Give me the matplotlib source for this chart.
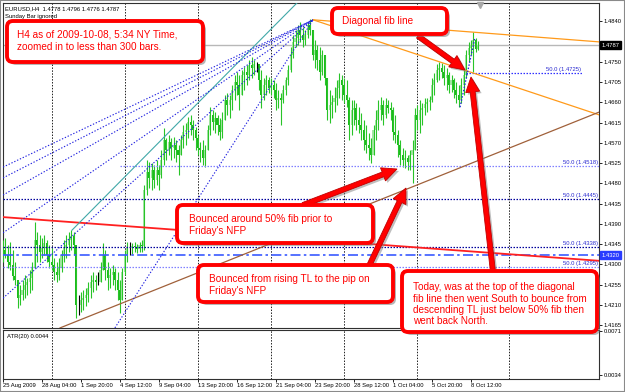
import numpy as np
import matplotlib
matplotlib.use("Agg")
import matplotlib.pyplot as plt
from matplotlib.patches import FancyBboxPatch, FancyArrow, Rectangle

# EURUSD H4 bars, in pips above 1.4000
high_pips = [354, 359, 343, 350, 332, 305, 265, 254, 265, 277, 270, 288, 305, 394, 372, 365, 359, 365, 354, 343,
             336, 314, 305, 314, 332, 354, 365, 372, 376, 372, 343, 232, 239, 243, 248, 261, 277, 283, 277, 283,
             305, 348, 332, 305, 292, 299, 292, 283, 265, 292, 332, 350, 350, 348, 350, 345, 350, 354, 476, 532,
             527, 525, 521, 532, 521, 554, 603, 581, 587, 581, 583, 576, 565, 587, 610, 614, 627, 632, 621, 605,
             587, 572, 576, 565, 610, 649, 643, 638, 632, 625, 638, 676, 681, 676, 698, 720, 727, 720, 732, 738,
             743, 754, 760, 754, 749, 743, 732, 714, 720, 716, 714, 709, 703, 687, 681, 698, 716, 743, 783, 809,
             820, 831, 838, 827, 820, 838, 845, 816, 798, 787, 783, 776, 765, 714, 687, 676, 694, 709, 725, 720,
             714, 709, 672, 665, 665, 658, 649, 636, 621, 610, 592, 581, 610, 643, 665, 672, 665, 669, 665, 661,
             649, 632, 598, 576, 558, 554, 543, 554, 576, 647, 654, 665, 658, 669, 669, 674, 714, 725, 745, 749,
             747, 743, 736, 727, 720, 714, 705, 698, 714, 732, 776, 794, 798, 816, 803, 796]
low_pips = [305, 314, 292, 288, 265, 254, 203, 210, 221, 225, 232, 237, 243, 292, 305, 305, 314, 321, 305, 292,
            288, 265, 261, 265, 283, 305, 314, 328, 332, 321, 181, 188, 194, 199, 208, 217, 225, 239, 243, 254,
            261, 288, 265, 243, 248, 254, 243, 221, 192, 221, 277, 305, 321, 323, 328, 325, 328, 328, 332, 454,
            470, 465, 470, 476, 465, 492, 521, 532, 543, 532, 536, 527, 499, 543, 558, 565, 581, 587, 576, 554,
            543, 527, 521, 516, 554, 587, 598, 592, 587, 576, 581, 621, 632, 625, 643, 665, 676, 643, 676, 687,
            698, 709, 714, 720, 727, 687, 647, 665, 676, 681, 676, 669, 643, 647, 610, 658, 676, 698, 727, 758,
            783, 787, 794, 783, 787, 803, 809, 754, 736, 732, 709, 720, 698, 621, 614, 625, 638, 654, 669, 665,
            658, 649, 576, 587, 610, 598, 592, 576, 554, 547, 532, 525, 554, 576, 598, 621, 610, 625, 636, 621,
            576, 570, 538, 521, 516, 514, 510, 510, 481, 554, 598, 592, 610, 632, 638, 643, 661, 676, 705, 709,
            714, 698, 687, 681, 683, 669, 658, 649, 658, 676, 714, 749, 765, 727, 772, 776]
close_pips = [332, 321, 305, 299, 274, 265, 225, 232, 243, 254, 261, 270, 292, 354, 343, 328, 336, 348, 321, 305,
              299, 283, 277, 292, 321, 336, 343, 354, 363, 343, 210, 210, 221, 225, 232, 248, 261, 265, 261, 261,
              288, 321, 288, 270, 277, 283, 265, 243, 221, 283, 321, 336, 336, 341, 339, 334, 343, 341, 465, 505,
              492, 510, 487, 510, 499, 532, 576, 554, 572, 558, 565, 554, 543, 576, 594, 598, 616, 610, 598, 581,
              558, 554, 536, 554, 598, 632, 616, 625, 610, 594, 621, 665, 654, 665, 687, 705, 698, 676, 720, 727,
              720, 743, 736, 745, 745, 709, 676, 698, 709, 692, 698, 687, 665, 669, 665, 687, 709, 732, 765, 794,
              803, 820, 809, 798, 809, 831, 820, 765, 776, 754, 727, 765, 714, 643, 654, 661, 669, 692, 709, 698,
              676, 665, 610, 643, 647, 621, 610, 598, 576, 565, 558, 543, 598, 621, 643, 654, 632, 654, 647, 643,
              594, 587, 565, 543, 532, 536, 527, 543, 554, 632, 621, 643, 647, 656, 661, 665, 698, 709, 732, 736,
              727, 714, 720, 698, 709, 687, 676, 665, 698, 720, 765, 780, 787, 798, 778, 787]
first_open_pips = 340

# chart objects: (bar index, price)
swing_high = (127.2, 1.4843)
orange_ends = [1.4794, 1.4632]          # price where the two orange lines hit the right edge
brown_tl = [(23.4, 1.4159), (244.5, 1.4638)]
red_tl = [(0.0, 1.4405), (244.5, 1.4308)]
teal_tl = [(28.3, 1.4376), (121.8, 1.4887)]
fan_left = [1.4516, 1.4492, 1.4454, 1.4370, 1.4225]   # fan lines at the left edge
fan_steep = (45.9, 1.4159)
short_fib = [(187.5, 1.4649), (193.6, 1.4803)]
fib_levels = [1.4725, 1.4518, 1.4445, 1.4338, 1.4295]
fib_starts = [190.0, 48.0, 0.0, 0.0, 0.0]
fib_colors = ["#3030ff", "#8080ff", "#00009c", "#00009c", "#8080ff"]
level_1320 = 1.4320
last_price = 1.4787

price_ticks = [1.4840, 1.4750, 1.4705, 1.4660, 1.4615, 1.4570, 1.4525, 1.4480, 1.4435,
               1.4390, 1.4345, 1.4300, 1.4255, 1.4210, 1.4165]
atr_ticks = [0.0071, 0.0034]
date_labels = ["25 Aug 2009", "28 Aug 04:00", "1 Sep 20:00", "4 Sep 12:00", "9 Sep 04:00",
               "13 Sep 20:00", "16 Sep 12:00", "21 Sep 04:00", "23 Sep 20:00", "28 Sep 12:00",
               "1 Oct 04:00", "5 Oct 20:00", "8 Oct 12:00"]
date_bars = [0, 16, 32, 48, 64, 80, 96, 112, 128, 144, 160, 176, 192]
week_seps = [20, 50, 80, 110, 140, 170, 207.5]

W, H = 625, 392
small = dict(fontsize=4.2, family="Liberation Sans")
fig = plt.figure(figsize=(W / 100, H / 100), dpi=100)
fig.patch.set_facecolor("white")


def px_axes(x0, y0, x1, y1):
    return fig.add_axes([x0 / W, 1 - y1 / H, (x1 - x0) / W, (y1 - y0) / H])


ax = px_axes(3, 3, 599, 328)
atr = px_axes(3, 330, 599, 379)
for a in (ax, atr):
    a.set_xlim(0, 244.5)
    for s in a.spines.values():
        s.set_color("#303030")
        s.set_linewidth(0.8)
    for b in week_seps:
        a.axvline(b, color="#202020", lw=0.7, ls=(0, (1.5, 1.5)), zorder=1)
    a.yaxis.tick_right()
    a.tick_params(axis="y", length=2, width=0.6, pad=1.5, labelsize=4.2)
ax.set_ylim(1.41588, 1.48803)
atr.set_ylim(0.00306, 0.00718)
ax.set_xticks([])
ax.set_yticks(price_ticks)
ax.set_yticklabels(["%.4f" % p for p in price_ticks], family="Liberation Sans")
atr.set_yticks(atr_ticks)
atr.set_yticklabels(["%.4f" % p for p in atr_ticks], family="Liberation Sans")
atr.set_xticks(date_bars)
atr.set_xticklabels(date_labels, ha="left", family="Liberation Sans")
atr.tick_params(axis="x", length=2, width=0.6, pad=1, labelsize=4.2)

# candles
hi = 1.4 + np.array(high_pips) / 1e4
lo = 1.4 + np.array(low_pips) / 1e4
cl = 1.4 + np.array(close_pips) / 1e4
op = np.r_[1.4 + first_open_pips / 1e4, cl[:-1]]
x = np.arange(len(cl))
up = cl > op + 1e-6
dn = cl < op - 1e-6
doji = ~(up | dn)
top = np.maximum(hi, np.maximum(op, cl))
bot = np.minimum(lo, np.minimum(op, cl))
ax.bar(x[up], (cl - op)[up], bottom=op[up], width=0.85, color="#a6e6a6", zorder=3)
ax.bar(x[dn], (cl - op)[dn], bottom=op[dn], width=0.85, color="#1cba1c", zorder=3)
ax.vlines(x[~doji], bot[~doji], top[~doji], color="#28c428", lw=0.8, zorder=4)
ax.vlines(x[doji], bot[doji], top[doji], color="black", lw=0.8, zorder=4)

# horizontal objects
ax.axhline(last_price, color="#b8b8b8", lw=1, zorder=2)
for lvl, st, col in zip(fib_levels, fib_starts, fib_colors):
    end = 237.7 if lvl == fib_levels[0] else 244.5
    ax.plot([st, end], [lvl, lvl], color=col, lw=0.9, ls=(0, (1.2, 1.2)), zorder=5)
    ax.text(end - 0.5, lvl + 0.0002, "50.0 (%.4f)" % lvl, color="#2a2ad0", ha="right", va="bottom",
            zorder=6, **small)
ax.plot([0, 244.5], [level_1320, level_1320], color="#3a5aff", lw=1.2, ls=(0, (6, 2, 1.5, 2)), zorder=5)

# trend lines
for p in orange_ends:
    ax.plot([swing_high[0], 244.5], [swing_high[1], p], color="#ff9a1a", lw=0.9, zorder=5)
ax.plot(*zip(*brown_tl), color="#a0603a", lw=0.9, zorder=5)
ax.plot(*zip(*red_tl), color="#ff2020", lw=1.3, zorder=5)
ax.plot(*zip(*teal_tl), color="#40a8a8", lw=0.8, zorder=5)
for p in fan_left:
    ax.plot([0, swing_high[0]], [p, swing_high[1]], color="#2020e0", lw=0.8, ls=(0, (1.2, 1.6)), zorder=5)
ax.plot([fan_steep[0], swing_high[0]], [fan_steep[1], swing_high[1]], color="#2020e0", lw=0.8,
        ls=(0, (1.2, 1.6)), zorder=5)
ax.plot(*zip(*short_fib), color="#2020e0", lw=0.9, ls=(0, (1.2, 1.4)), zorder=5)

# chart shift marker
ax.plot(195.7, 1.4876, marker="v", color="#a8a8a8", ms=4, clip_on=False, zorder=6)

# price boxes on the axis
yt = ax.get_yaxis_transform()
ax.text(1.004, last_price, "%.4f" % last_price, transform=yt, color="white", va="center", ha="left",
        bbox=dict(boxstyle="square,pad=0.25", fc="black", ec="black"), zorder=7, clip_on=False, **small)
ax.text(1.004, level_1320, "%.4f" % level_1320, transform=yt, color="white", va="center", ha="left",
        bbox=dict(boxstyle="square,pad=0.25", fc="#2a3cff", ec="#2a3cff"), zorder=7, clip_on=False, **small)

# header texts
ax.text(0.004, 0.99, "EURUSD,H4  1.4778 1.4796 1.4776 1.4787", transform=ax.transAxes, va="top", **small)
ax.text(0.004, 0.965, "Sunday Bar ignored", transform=ax.transAxes, va="top", **small)
atr.text(0.007, 0.92, "ATR(20) 0.0044", transform=atr.transAxes, va="top", **small)

# annotation overlay in pixel coordinates
ov = fig.add_axes([0, 0, 1, 1])
ov.set_xlim(0, W)
ov.set_ylim(H, 0)
ov.axis("off")
red = "#ff0000"
big = dict(fontsize=7.2, family="Liberation Sans", color="#ff0000", va="center", ha="left")

boxes = [
    ((7, 21, 203, 62), 17, [34.5, 47], ["H4 as of 2009-10-08, 5:34 NY Time,", "zoomed in to less than 300 bars."]),
    ((332, 8, 447, 34), 342, [21], ["Diagonal fib line"]),
    ((177, 205, 373, 243), 189, [219, 231], ["Bounced around 50% fib prior to", "Friday's NFP"]),
    ((198, 265, 393, 302), 209, [279, 291], ["Bounced from rising TL to the pip on", "Friday's NFP"]),
    ((402, 271, 597, 332), 413, [287, 298.5, 310, 321.5],
     ["Today, was at the top of the diagonal", "fib line then went South to bounce from",
      "descending TL just below 50% fib then", "went back North."]),
]
arrows = [((418, 36), (465, 70)), ((303, 205), (397, 169)), ((369, 266), (406, 188)), ((493, 272), (471, 77))]

for (tx, ty), (hx, hy) in arrows:
    ov.add_patch(FancyArrow(tx + 2, ty + 2, hx - tx, hy - ty, width=5, head_width=14, head_length=15,
                            length_includes_head=True, fc="#808080", ec="none", alpha=0.5, zorder=8))
    ov.add_patch(FancyArrow(tx, ty, hx - tx, hy - ty, width=5, head_width=14, head_length=15,
                            length_includes_head=True, fc=red, ec="#c00000", lw=0.6, zorder=9))

for (x0, y0, x1, y1), tx, tys, lines in boxes:
    ov.add_patch(FancyBboxPatch((x0 + 3, y0 + 3), x1 - x0, y1 - y0, boxstyle="round,pad=0,rounding_size=6",
                                fc="#7a7a7a", ec="none", alpha=0.55, zorder=10))
    ov.add_patch(FancyBboxPatch((x0, y0), x1 - x0, y1 - y0, boxstyle="round,pad=0,rounding_size=6",
                                fc="white", ec=red, lw=2.8, zorder=11))
    for ty, s in zip(tys, lines):
        ov.text(tx, ty, s, zorder=12, **big)

fig.patches.append(Rectangle((0, 0), 1, 1, transform=fig.transFigure, fill=False, ec="#8a8a8a", lw=1.5))
fig.savefig("out.png", dpi=100, facecolor="white")
